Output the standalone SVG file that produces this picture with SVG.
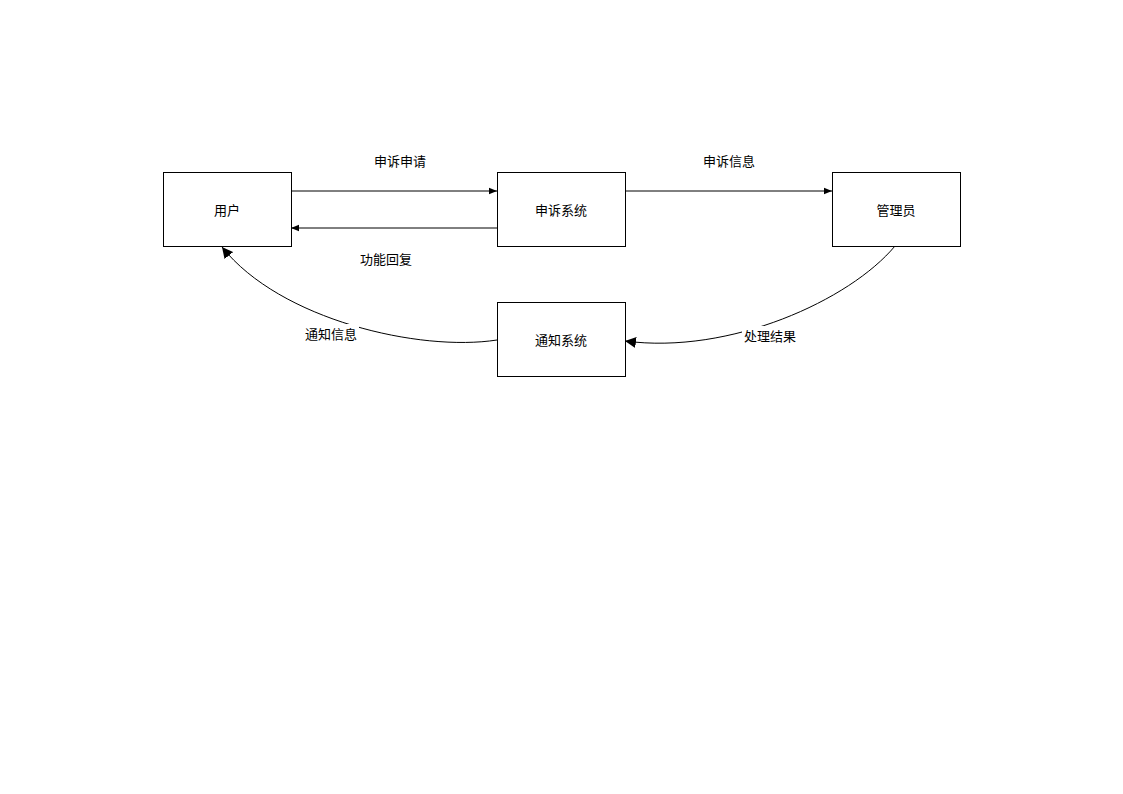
<svg xmlns="http://www.w3.org/2000/svg" width="1123" height="794" viewBox="0 0 1123 794">
<style>
.box{fill:#fff;stroke:#000;stroke-width:1}
.lbl{font-family:"Noto Sans CJK SC","Liberation Sans",sans-serif;font-size:13px;fill:#000;text-anchor:middle;dominant-baseline:central}
.ln{fill:none;stroke:#000;stroke-width:1}
</style>
<defs>
<marker id="a" viewBox="0 0 10 10" refX="10" refY="5" markerWidth="8" markerHeight="8" markerUnits="userSpaceOnUse" orient="auto"><path d="M0,1 L10,5 L0,9 z" fill="#000"/></marker>
<marker id="b" viewBox="0 0 10 10" refX="10" refY="5" markerWidth="11" markerHeight="11" markerUnits="userSpaceOnUse" orient="auto"><path d="M0,0 L10,5 L0,10 z" fill="#000"/></marker>
</defs>
<rect width="1123" height="794" fill="#fff"/>
<g id="connectors">
<line class="ln" x1="291" y1="191" x2="497" y2="191" marker-end="url(#a)"/>
<line class="ln" x1="497" y1="228" x2="291" y2="228" marker-end="url(#a)"/>
<line class="ln" x1="625" y1="191" x2="832" y2="191" marker-end="url(#a)"/>
<path class="ln" d="M895,246 C850,300 730,355 625,341" marker-end="url(#b)"/>
<path class="ln" d="M497,340 C420,352 280,320 222,247" marker-end="url(#b)"/>
<rect x="742" y="326" width="56" height="18" fill="#fff"/>
<rect x="303" y="324" width="56" height="18" fill="#fff"/>
<text class="lbl" x="400" y="160">申诉申请</text>
<text class="lbl" x="386" y="258">功能回复</text>
<text class="lbl" x="729" y="160">申诉信息</text>
<text class="lbl" x="770" y="335">处理结果</text>
<text class="lbl" x="331" y="333">通知信息</text>
</g>
<g id="user"><rect class="box" x="163.5" y="172.5" width="128" height="74"/><text class="lbl" x="227" y="209">用户</text></g>
<g id="complaint"><rect class="box" x="497.5" y="172.5" width="128" height="74"/><text class="lbl" x="561" y="209">申诉系统</text></g>
<g id="admin"><rect class="box" x="832.5" y="172.5" width="128" height="74"/><text class="lbl" x="896" y="209">管理员</text></g>
<g id="notify"><rect class="box" x="497.5" y="302.5" width="128" height="74"/><text class="lbl" x="561" y="339">通知系统</text></g>
</svg>
